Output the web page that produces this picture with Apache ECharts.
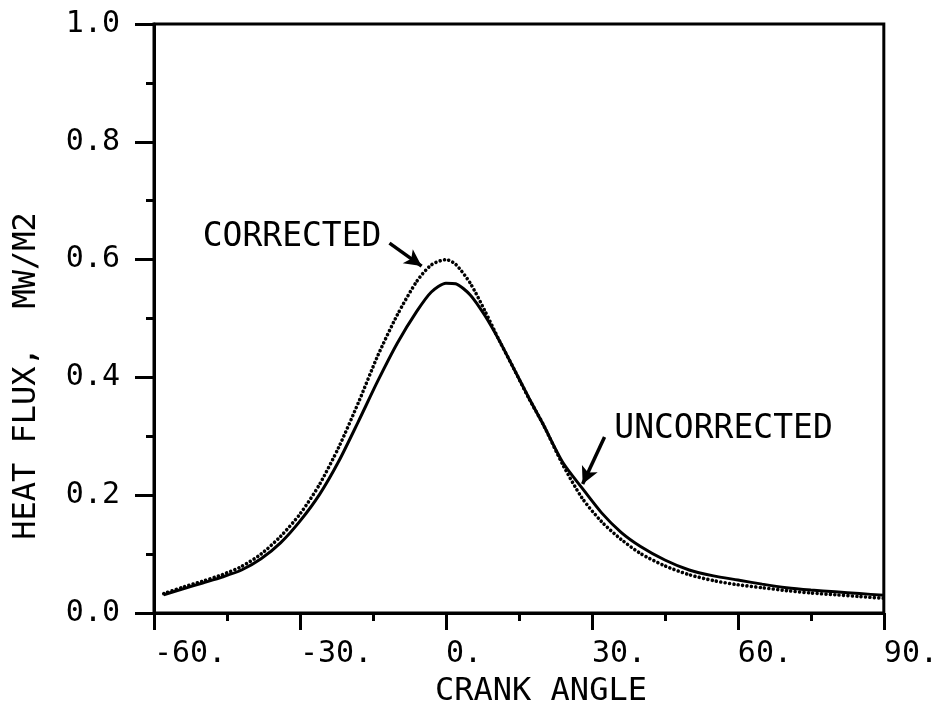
<!DOCTYPE html>
<html>
<head>
<meta charset="utf-8">
<script src="https://cdn.jsdelivr.net/npm/echarts@6/dist/echarts.min.js"></script>
<style>
  html, body { margin: 0; padding: 0; background: #fff; }
  #chart { width: 941px; height: 712px; }
</style>
</head>
<body>
<div id="chart"></div>
<script>
// Crank angle (degrees) at which the heat flux was sampled
const crankAngle = [-58, -54, -50, -46, -42, -38, -34, -30, -26, -22, -18, -14, -10, -6, -3, 0, 2, 5, 8, 11, 14, 17, 20, 24, 28, 32, 36, 40, 45, 50, 55, 60, 65, 70, 75, 80, 85, 90];

// Heat flux, MW/m2
const corrected = [0.033, 0.044, 0.054, 0.065, 0.079, 0.100, 0.130, 0.168, 0.218, 0.282, 0.357, 0.437, 0.506, 0.563, 0.591, 0.600, 0.592, 0.560, 0.513, 0.462, 0.414, 0.365, 0.320, 0.252, 0.195, 0.155, 0.125, 0.101, 0.080, 0.065, 0.055, 0.048, 0.043, 0.038, 0.034, 0.031, 0.028, 0.025];
const uncorrected = [0.031, 0.041, 0.051, 0.061, 0.073, 0.092, 0.119, 0.156, 0.201, 0.258, 0.325, 0.394, 0.458, 0.512, 0.545, 0.560, 0.559, 0.540, 0.505, 0.462, 0.414, 0.366, 0.320, 0.256, 0.212, 0.170, 0.137, 0.113, 0.090, 0.073, 0.063, 0.056, 0.049, 0.043, 0.039, 0.036, 0.033, 0.030];

// Axis ranges and ticks
const xTicks = [-60, -30, 0, 30, 60, 90];
const yTicks = [0.0, 0.2, 0.4, 0.6, 0.8, 1.0];

// Curve labels with arrows: text anchor, arrow tail, arrow tip (data coordinates)
const labelNames = ['CORRECTED', 'UNCORRECTED'];
const labelAt = [[-50.0, 0.637], [34.6, 0.311]];
const arrowFrom = [[-11.6, 0.628], [32.6, 0.299]];
const arrowTo = [[-5.0, 0.589], [28.1, 0.219]];

const FONT = '"DejaVu Sans Mono", "Liberation Mono", monospace';

const chart = echarts.init(document.getElementById('chart'), null, { renderer: 'canvas' });

const pair = (xs, ys) => xs.map((x, i) => [x, ys[i]]);

const option = {
  animation: false,
  backgroundColor: '#fff',
  grid: {
    left: 154, right: 51, top: 24, bottom: 99,
    show: true, borderColor: '#000', borderWidth: 3, backgroundColor: 'transparent'
  },
  xAxis: {
    type: 'value',
    min: xTicks[0], max: xTicks[xTicks.length - 1], interval: 30,
    axisLine: { show: true, onZero: false, lineStyle: { color: '#000', width: 3 } },
    axisTick: { show: true, inside: false, length: 17, lineStyle: { color: '#000', width: 3 } },
    minorTick: { show: true, splitNumber: 2, length: 8, lineStyle: { color: '#000', width: 3 } },
    splitLine: { show: false },
    axisLabel: {
      show: true, margin: 26, align: 'left',
      fontFamily: FONT, fontSize: 30, color: '#000',
      formatter: v => String(v) + '.'
    }
  },
  yAxis: {
    type: 'value',
    min: yTicks[0], max: yTicks[yTicks.length - 1], interval: 0.2,
    axisLine: { show: true, onZero: false, lineStyle: { color: '#000', width: 3 } },
    axisTick: { show: true, inside: false, length: 19, lineStyle: { color: '#000', width: 3 } },
    minorTick: { show: true, splitNumber: 2, length: 8, lineStyle: { color: '#000', width: 3 } },
    splitLine: { show: false },
    axisLabel: {
      show: true, margin: 34,
      fontFamily: FONT, fontSize: 30, color: '#000',
      formatter: v => v.toFixed(1)
    }
  },
  series: [
    {
      name: 'UNCORRECTED',
      type: 'line',
      data: pair(crankAngle, uncorrected),
      showSymbol: false,
      smooth: 0.25,
      lineStyle: { color: '#000', width: 3 },
      markLine: {
        silent: true,
        symbol: ['none', 'arrow'],
        symbolSize: [13, 17],
        label: { show: false },
        lineStyle: { color: '#000', width: 3.5, type: 'solid' },
        data: labelNames.map((_, i) => [{ coord: arrowFrom[i] }, { coord: arrowTo[i] }])
      }
    },
    {
      name: 'CORRECTED',
      type: 'line',
      data: pair(crankAngle, corrected),
      showSymbol: false,
      smooth: 0.25,
      lineStyle: { color: '#000', width: 3.6, type: [0.01, 4.4], cap: 'round' }
    }
  ]
};

chart.setOption(option);

// Axis titles and curve labels
const graphics = [
  {
    type: 'text', left: 435, top: 676,
    style: { text: 'CRANK ANGLE', fontFamily: FONT, fontSize: 32, fill: '#000' }
  },
  {
    type: 'text', x: 27, y: 376, rotation: Math.PI / 2,
    style: { text: 'HEAT FLUX,  MW/M2', fontFamily: FONT, fontSize: 32, fill: '#000', align: 'center', verticalAlign: 'middle' }
  }
];
labelNames.forEach((name, i) => {
  const p = chart.convertToPixel({ gridIndex: 0 }, labelAt[i]);
  graphics.push({
    type: 'text', x: p[0], y: p[1],
    style: { text: name, fontFamily: FONT, fontSize: 33, fill: '#000', align: 'left', verticalAlign: 'middle' }
  });
});
chart.setOption({ graphic: graphics });
</script>
</body>
</html>
